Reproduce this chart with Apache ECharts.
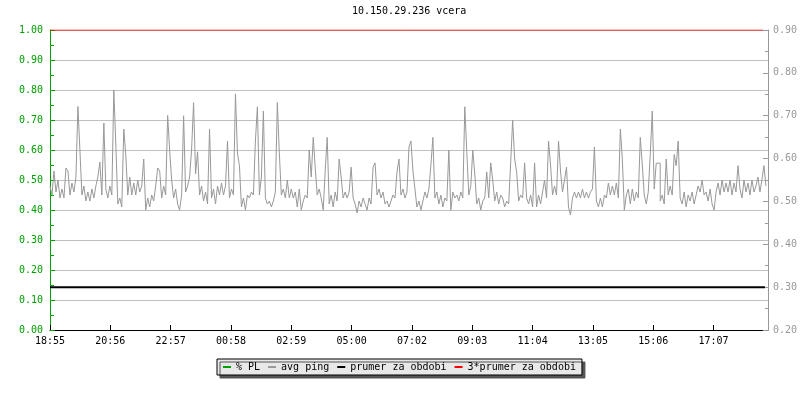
<!DOCTYPE html>
<html><head><meta charset="utf-8">
<script src="https://cdn.jsdelivr.net/npm/echarts@6/dist/echarts.min.js"></script>
<style>html,body{margin:0;padding:0;background:#fff}#c{width:800px;height:400px}</style>
</head><body><div id="c"></div>
<script>
const chartTitle = '10.150.29.236 vcera';
const timeLabels = ['18:55','20:56','22:57','00:58','02:59','05:00','07:02','09:03','11:04','13:05','15:06','17:07'];
const tickStepMin = 121;
const axisSpanMin = 1440;
const sampleStepMin = 4;
const seriesNames = ['% PL', 'avg ping', 'prumer za obdobi', '3*prumer za obdobi'];
const packetLoss = [];
const avgPing = [
0.48,0.45,0.53,0.46,0.50,0.44,0.47,0.44,0.54,0.53,
0.45,0.49,0.46,0.51,0.745,0.60,0.45,0.48,0.43,0.46,
0.43,0.47,0.44,0.48,0.51,0.56,0.45,0.69,0.47,0.44,
0.48,0.45,0.80,0.62,0.42,0.44,0.41,0.67,0.585,0.45,
0.51,0.45,0.49,0.45,0.50,0.46,0.48,0.57,0.40,0.44,
0.41,0.45,0.43,0.48,0.54,0.53,0.44,0.48,0.45,0.715,
0.60,0.50,0.44,0.47,0.42,0.40,0.45,0.714,0.46,0.48,
0.51,0.60,0.758,0.52,0.594,0.45,0.48,0.43,0.46,0.42,
0.67,0.44,0.47,0.42,0.48,0.45,0.49,0.45,0.48,0.63,
0.44,0.47,0.45,0.787,0.59,0.548,0.41,0.44,0.40,0.45,
0.44,0.46,0.45,0.63,0.744,0.45,0.51,0.73,0.44,0.42,
0.43,0.41,0.43,0.46,0.758,0.59,0.45,0.47,0.44,0.50,
0.44,0.47,0.44,0.46,0.41,0.47,0.40,0.43,0.45,0.44,
0.60,0.51,0.642,0.54,0.45,0.47,0.44,0.40,0.53,0.642,
0.42,0.45,0.41,0.46,0.43,0.57,0.51,0.44,0.46,0.44,
0.46,0.543,0.44,0.42,0.39,0.43,0.41,0.44,0.42,0.40,
0.44,0.42,0.543,0.557,0.45,0.47,0.44,0.46,0.42,0.43,
0.41,0.43,0.45,0.44,0.527,0.57,0.45,0.47,0.44,0.46,
0.61,0.63,0.53,0.47,0.41,0.43,0.40,0.43,0.46,0.44,
0.47,0.55,0.642,0.44,0.46,0.42,0.45,0.41,0.44,0.43,
0.60,0.40,0.46,0.44,0.45,0.43,0.46,0.44,0.744,0.594,
0.45,0.48,0.60,0.52,0.42,0.44,0.40,0.43,0.44,0.527,
0.44,0.557,0.50,0.43,0.46,0.42,0.45,0.44,0.41,0.43,
0.42,0.557,0.70,0.57,0.527,0.43,0.45,0.44,0.557,0.44,
0.42,0.45,0.41,0.557,0.41,0.45,0.42,0.46,0.50,0.44,
0.63,0.55,0.45,0.48,0.45,0.63,0.53,0.46,0.50,0.543,
0.41,0.383,0.44,0.46,0.44,0.46,0.44,0.47,0.44,0.46,
0.44,0.46,0.47,0.61,0.43,0.41,0.44,0.41,0.45,0.44,
0.49,0.45,0.48,0.45,0.49,0.44,0.67,0.57,0.40,0.45,
0.47,0.42,0.47,0.43,0.46,0.44,0.642,0.55,0.45,0.42,
0.46,0.585,0.73,0.47,0.556,0.556,0.43,0.45,0.42,0.57,
0.45,0.48,0.45,0.585,0.548,0.63,0.44,0.42,0.46,0.41,
0.45,0.43,0.46,0.42,0.45,0.48,0.46,0.50,0.45,0.46,
0.43,0.47,0.42,0.40,0.46,0.49,0.45,0.50,0.46,0.49,
0.46,0.50,0.45,0.49,0.46,0.548,0.47,0.44,0.50,0.46,
0.49,0.45,0.50,0.46,0.48,0.51,0.46,0.50,0.548,0.48
];
const periodAvg = 0.30;
const periodAvg3 = 0.90;
const refLineStartMin = 0;
const refLineEndMin = 1434;

const FONT = 'DejaVu Sans Mono';
const GREEN = '#00a000';
const GRAYAX = '#999999';

const pingData = avgPing.map((v, i) => [i * sampleStepMin, v]);
const plData = packetLoss.map((v, i) => [i * sampleStepMin, v]);

const chart = echarts.init(document.getElementById('c'), null, {renderer: 'canvas'});
chart.setOption({
  animation: false,
  backgroundColor: '#ffffff',
  title: {
    text: chartTitle, left: 352, top: 6, padding: 0,
    textStyle: {fontFamily: FONT, fontSize: 10, fontWeight: 'normal', color: '#000'}
  },
  grid: {left: 50, right: 30, top: 30, bottom: 70, containLabel: false},
  legend: {
    left: 217, top: 359, padding: [3, 6, 3, 6],
    itemGap: 8, itemWidth: 8, itemHeight: 2, icon: 'rect',
    backgroundColor: '#e8e8e8', borderColor: '#000', borderWidth: 1,
    shadowColor: '#555', shadowBlur: 0, shadowOffsetX: 3, shadowOffsetY: 3,
    selectedMode: false,
    textStyle: {fontFamily: FONT, fontSize: 10, color: '#000'},
    data: seriesNames
  },
  xAxis: {
    type: 'value', min: 0, max: axisSpanMin, interval: tickStepMin,
    axisLine: {show: true, onZero: false, lineStyle: {color: '#000', width: 1}},
    axisTick: {show: true, inside: true, length: 5, lineStyle: {color: '#000'}},
    axisLabel: {
      fontFamily: FONT, fontSize: 10, color: '#000', margin: 6,
      showMaxLabel: false,
      formatter: v => (v % tickStepMin === 0 && timeLabels[v / tickStepMin]) || ''
    },
    splitLine: {show: false}
  },
  yAxis: [
    {
      type: 'value', position: 'left', min: 0, max: 1, interval: 0.1,
      axisLine: {show: true, lineStyle: {color: GREEN, width: 1}},
      axisTick: {show: true, inside: true, length: 5, lineStyle: {color: GREEN}},
      minorTick: {show: true, splitNumber: 2, length: 4, lineStyle: {color: GREEN}},
      axisLabel: {fontFamily: FONT, fontSize: 10, color: GREEN, margin: 7, formatter: v => v.toFixed(2)},
      splitLine: {show: true, lineStyle: {color: '#c0c0c0', width: 1}}
    },
    {
      type: 'value', position: 'right', min: 0.2, max: 0.9, interval: 0.1,
      axisLine: {show: true, lineStyle: {color: GRAYAX, width: 1}},
      axisTick: {show: true, inside: true, length: 5, lineStyle: {color: GRAYAX}},
      minorTick: {show: true, splitNumber: 2, length: 3, lineStyle: {color: GRAYAX}},
      axisLabel: {fontFamily: FONT, fontSize: 10, color: GRAYAX, margin: 5, formatter: v => v.toFixed(2)},
      splitLine: {show: false}
    }
  ],
  series: [
    {
      name: seriesNames[0], type: 'line', yAxisIndex: 0, data: plData,
      showSymbol: false, color: GREEN, lineStyle: {color: GREEN, width: 1}
    },
    {
      name: seriesNames[1], type: 'line', yAxisIndex: 0, data: pingData,
      step: 'end', showSymbol: false, color: '#9a9a9a',
      lineStyle: {color: '#999999', width: 1}, z: 3
    },
    {
      name: seriesNames[2], type: 'line', yAxisIndex: 1,
      data: [[refLineStartMin, periodAvg], [refLineEndMin, periodAvg]],
      showSymbol: false, color: '#000', lineStyle: {color: '#000', width: 2}, z: 4
    },
    {
      name: seriesNames[3], type: 'line', yAxisIndex: 1,
      data: [[refLineStartMin, periodAvg3], [refLineEndMin - 4, periodAvg3]],
      showSymbol: false, color: '#ff0000', lineStyle: {color: '#ff0000', width: 1}, z: 4
    }
  ]
});
</script>
</body></html>
